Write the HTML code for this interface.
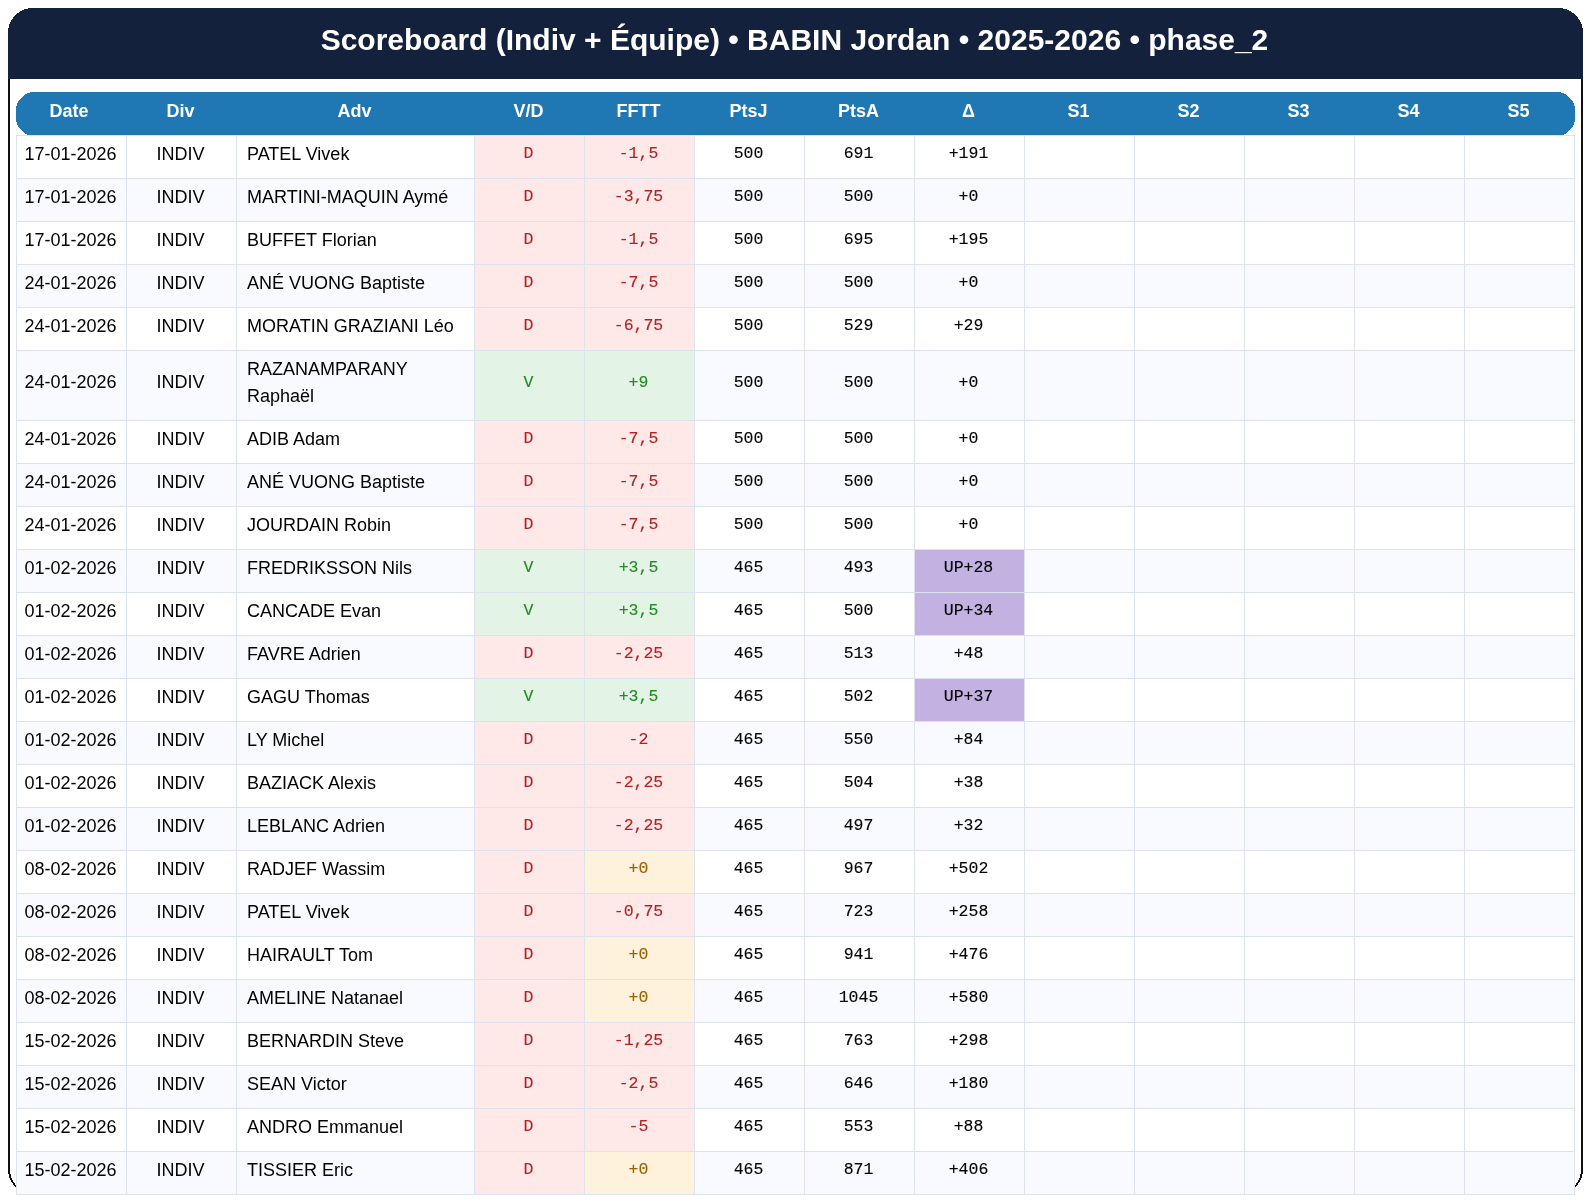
<!DOCTYPE html>
<html lang="fr"><head><meta charset="utf-8"><title>Scoreboard</title>
<style>
html,body{margin:0;padding:0;background:#fff;}
body{width:1590px;height:1201px;overflow:hidden;position:relative;font-family:"Liberation Sans",Arial,sans-serif;}
svg.bg{position:absolute;left:0;top:0;}
.hdr,table{will-change:transform;}
.hdr{position:absolute;left:8px;top:8px;width:1575px;height:71px;text-align:center;}
.hdr h1{margin:0;position:relative;left:-1px;padding-top:14px;color:#fff;font-size:30px;font-weight:bold;line-height:36px;}
table{position:absolute;left:16px;top:92px;border-collapse:collapse;table-layout:fixed;width:1559px;font-size:18px;line-height:27px;color:#000;}
col.w1{width:110px;} col.w2{width:238px;}
th,td{padding:5px 9px 10px 7px;border:1px solid #dde3ee;text-align:center;vertical-align:middle;}
th{color:#fff;font-weight:bold;border:none;padding:6px 9px 10px 7px;}
th:first-child{padding-right:12px;}
td{white-space:nowrap;}
td.adv{text-align:left;white-space:normal;padding-left:10px;padding-right:10px;}
tr td{background:#fff;}
tr.alt td{background:#f8faff;}
td.m{font-family:"Liberation Mono",monospace;font-size:16.5px;-webkit-text-stroke:0.12px currentColor;padding-top:4px;padding-bottom:11px;}
tr td.loss{background:#fee8e8;color:#b22222;}
tr td.win{background:#e3f4e6;color:#228b22;}
tr td.zero{background:#fff2dc;color:#9c6000;}
tr td.up{background:#c3b1e1;}
tr.two td:not(.m):not(.adv){padding-top:4px;padding-bottom:11px;}
</style></head><body>
<svg class="bg" width="1590" height="1201" viewBox="0 0 1590 1201" shape-rendering="crispEdges"><path fill="#111" d="M8 28 H10 V1174 H8 Z M1581 28 H1583 V1174 H1581 Z M28 1193 H30 V1194 H28 Z M1561 1193 H1563 V1194 H1561 Z M24 1192 H26 V1193 H24 Z M1565 1192 H1567 V1193 H1565 Z M22 1191 H24 V1192 H22 Z M1567 1191 H1569 V1192 H1567 Z M20 1190 H22 V1191 H20 Z M1569 1190 H1571 V1191 H1569 Z M19 1189 H21 V1190 H19 Z M1570 1189 H1572 V1190 H1570 Z M17 1188 H19 V1189 H17 Z M1572 1188 H1574 V1189 H1572 Z M16 1187 H18 V1188 H16 Z M1573 1187 H1575 V1188 H1573 Z M15 1186 H17 V1187 H15 Z M1574 1186 H1576 V1187 H1574 Z M14 1185 H16 V1186 H14 Z M1575 1185 H1577 V1186 H1575 Z M13 1184 H15 V1185 H13 Z M1576 1184 H1578 V1185 H1576 Z M13 1183 H15 V1184 H13 Z M1576 1183 H1578 V1184 H1576 Z M12 1182 H14 V1183 H12 Z M1577 1182 H1579 V1183 H1577 Z M11 1181 H13 V1182 H11 Z M1578 1181 H1580 V1182 H1578 Z M11 1180 H13 V1181 H11 Z M1578 1180 H1580 V1181 H1578 Z M10 1179 H12 V1180 H10 Z M1579 1179 H1581 V1180 H1579 Z M10 1178 H12 V1179 H10 Z M1579 1178 H1581 V1179 H1579 Z M9 1177 H11 V1178 H9 Z M1580 1177 H1582 V1178 H1580 Z M9 1176 H11 V1177 H9 Z M1580 1176 H1582 V1177 H1580 Z M9 1175 H11 V1176 H9 Z M1580 1175 H1582 V1176 H1580 Z M9 1174 H11 V1175 H9 Z M1580 1174 H1582 V1175 H1580 Z"/><path fill="#14213d" d="M28 8 L28 9 L24 9 L24 10 L22 10 L22 11 L20 11 L20 12 L19 12 L19 13 L17 13 L17 14 L16 14 L16 15 L15 15 L15 16 L14 16 L14 17 L13 17 L13 18 L13 19 L12 19 L12 20 L11 20 L11 21 L11 22 L10 22 L10 23 L10 24 L9 24 L9 25 L9 26 L9 27 L9 28 L8 28 L8 29 L8 30 L8 31 L8 32 L8 33 L8 34 L8 35 L8 36 L8 37 L8 38 L8 39 L8 40 L8 41 L8 42 L8 43 L8 44 L8 45 L8 46 L8 47 L8 48 L8 49 L8 50 L8 51 L8 52 L8 53 L8 54 L8 55 L8 56 L8 57 L8 58 L8 59 L8 60 L8 61 L8 62 L8 63 L8 64 L8 65 L8 66 L8 67 L8 68 L8 69 L8 70 L8 71 L8 72 L8 73 L8 74 L8 75 L8 76 L8 77 L8 78 L8 79 L1583 79 L1583 78 L1583 77 L1583 76 L1583 75 L1583 74 L1583 73 L1583 72 L1583 71 L1583 70 L1583 69 L1583 68 L1583 67 L1583 66 L1583 65 L1583 64 L1583 63 L1583 62 L1583 61 L1583 60 L1583 59 L1583 58 L1583 57 L1583 56 L1583 55 L1583 54 L1583 53 L1583 52 L1583 51 L1583 50 L1583 49 L1583 48 L1583 47 L1583 46 L1583 45 L1583 44 L1583 43 L1583 42 L1583 41 L1583 40 L1583 39 L1583 38 L1583 37 L1583 36 L1583 35 L1583 34 L1583 33 L1583 32 L1583 31 L1583 30 L1583 29 L1583 28 L1582 28 L1582 27 L1582 26 L1582 25 L1582 24 L1581 24 L1581 23 L1581 22 L1580 22 L1580 21 L1580 20 L1579 20 L1579 19 L1578 19 L1578 18 L1578 17 L1577 17 L1577 16 L1576 16 L1576 15 L1575 15 L1575 14 L1574 14 L1574 13 L1572 13 L1572 12 L1571 12 L1571 11 L1569 11 L1569 10 L1567 10 L1567 9 L1563 9 L1563 8 Z"/><path fill="#1f77b4" d="M30 92 L30 93 L27 93 L27 94 L25 94 L25 95 L24 95 L24 96 L23 96 L23 97 L22 97 L22 98 L21 98 L21 99 L20 99 L20 100 L19 100 L19 101 L18 101 L18 102 L18 103 L17 103 L17 104 L17 105 L17 106 L16 106 L16 107 L16 108 L16 109 L16 110 L16 111 L16 112 L16 113 L16 114 L16 115 L16 116 L16 117 L16 118 L16 119 L16 120 L16 121 L16 122 L17 122 L17 123 L17 124 L17 125 L18 125 L18 126 L18 127 L19 127 L19 128 L20 128 L20 129 L21 129 L21 130 L22 130 L22 131 L23 131 L23 132 L24 132 L24 133 L25 133 L25 134 L27 134 L27 135 L30 135 L30 136 L1561 136 L1561 135 L1564 135 L1564 134 L1566 134 L1566 133 L1567 133 L1567 132 L1568 132 L1568 131 L1569 131 L1569 130 L1570 130 L1570 129 L1571 129 L1571 128 L1572 128 L1572 127 L1573 127 L1573 126 L1573 125 L1574 125 L1574 124 L1574 123 L1574 122 L1575 122 L1575 121 L1575 120 L1575 119 L1575 118 L1575 117 L1575 116 L1575 115 L1575 114 L1575 113 L1575 112 L1575 111 L1575 110 L1575 109 L1575 108 L1575 107 L1575 106 L1574 106 L1574 105 L1574 104 L1574 103 L1573 103 L1573 102 L1573 101 L1572 101 L1572 100 L1571 100 L1571 99 L1570 99 L1570 98 L1569 98 L1569 97 L1568 97 L1568 96 L1567 96 L1567 95 L1566 95 L1566 94 L1564 94 L1564 93 L1561 93 L1561 92 Z"/></svg>
<div class="hdr"><h1>Scoreboard (Indiv + Équipe) • BABIN Jordan • 2025-2026 • phase_2</h1></div>
<table>
<colgroup><col class="w1"><col class="w1"><col class="w2"><col class="w1"><col class="w1"><col class="w1"><col class="w1"><col class="w1"><col class="w1"><col class="w1"><col class="w1"><col class="w1"><col class="w1"></colgroup>
<thead><tr><th>Date</th><th>Div</th><th>Adv</th><th>V/D</th><th>FFTT</th><th>PtsJ</th><th>PtsA</th><th>Δ</th><th>S1</th><th>S2</th><th>S3</th><th>S4</th><th>S5</th></tr></thead>
<tbody>
<tr><td>17-01-2026</td><td>INDIV</td><td class="adv">PATEL Vivek</td><td class="m loss">D</td><td class="m loss">-1,5</td><td class="m">500</td><td class="m">691</td><td class="m">+191</td><td></td><td></td><td></td><td></td><td></td></tr>
<tr class="alt"><td>17-01-2026</td><td>INDIV</td><td class="adv">MARTINI-MAQUIN Aymé</td><td class="m loss">D</td><td class="m loss">-3,75</td><td class="m">500</td><td class="m">500</td><td class="m">+0</td><td></td><td></td><td></td><td></td><td></td></tr>
<tr><td>17-01-2026</td><td>INDIV</td><td class="adv">BUFFET Florian</td><td class="m loss">D</td><td class="m loss">-1,5</td><td class="m">500</td><td class="m">695</td><td class="m">+195</td><td></td><td></td><td></td><td></td><td></td></tr>
<tr class="alt"><td>24-01-2026</td><td>INDIV</td><td class="adv">ANÉ VUONG Baptiste</td><td class="m loss">D</td><td class="m loss">-7,5</td><td class="m">500</td><td class="m">500</td><td class="m">+0</td><td></td><td></td><td></td><td></td><td></td></tr>
<tr><td>24-01-2026</td><td>INDIV</td><td class="adv">MORATIN GRAZIANI Léo</td><td class="m loss">D</td><td class="m loss">-6,75</td><td class="m">500</td><td class="m">529</td><td class="m">+29</td><td></td><td></td><td></td><td></td><td></td></tr>
<tr class="alt two"><td>24-01-2026</td><td>INDIV</td><td class="adv">RAZANAMPARANY Raphaël</td><td class="m win">V</td><td class="m win">+9</td><td class="m">500</td><td class="m">500</td><td class="m">+0</td><td></td><td></td><td></td><td></td><td></td></tr>
<tr><td>24-01-2026</td><td>INDIV</td><td class="adv">ADIB Adam</td><td class="m loss">D</td><td class="m loss">-7,5</td><td class="m">500</td><td class="m">500</td><td class="m">+0</td><td></td><td></td><td></td><td></td><td></td></tr>
<tr class="alt"><td>24-01-2026</td><td>INDIV</td><td class="adv">ANÉ VUONG Baptiste</td><td class="m loss">D</td><td class="m loss">-7,5</td><td class="m">500</td><td class="m">500</td><td class="m">+0</td><td></td><td></td><td></td><td></td><td></td></tr>
<tr><td>24-01-2026</td><td>INDIV</td><td class="adv">JOURDAIN Robin</td><td class="m loss">D</td><td class="m loss">-7,5</td><td class="m">500</td><td class="m">500</td><td class="m">+0</td><td></td><td></td><td></td><td></td><td></td></tr>
<tr class="alt"><td>01-02-2026</td><td>INDIV</td><td class="adv">FREDRIKSSON Nils</td><td class="m win">V</td><td class="m win">+3,5</td><td class="m">465</td><td class="m">493</td><td class="m up">UP+28</td><td></td><td></td><td></td><td></td><td></td></tr>
<tr><td>01-02-2026</td><td>INDIV</td><td class="adv">CANCADE Evan</td><td class="m win">V</td><td class="m win">+3,5</td><td class="m">465</td><td class="m">500</td><td class="m up">UP+34</td><td></td><td></td><td></td><td></td><td></td></tr>
<tr class="alt"><td>01-02-2026</td><td>INDIV</td><td class="adv">FAVRE Adrien</td><td class="m loss">D</td><td class="m loss">-2,25</td><td class="m">465</td><td class="m">513</td><td class="m">+48</td><td></td><td></td><td></td><td></td><td></td></tr>
<tr><td>01-02-2026</td><td>INDIV</td><td class="adv">GAGU Thomas</td><td class="m win">V</td><td class="m win">+3,5</td><td class="m">465</td><td class="m">502</td><td class="m up">UP+37</td><td></td><td></td><td></td><td></td><td></td></tr>
<tr class="alt"><td>01-02-2026</td><td>INDIV</td><td class="adv">LY Michel</td><td class="m loss">D</td><td class="m loss">-2</td><td class="m">465</td><td class="m">550</td><td class="m">+84</td><td></td><td></td><td></td><td></td><td></td></tr>
<tr><td>01-02-2026</td><td>INDIV</td><td class="adv">BAZIACK Alexis</td><td class="m loss">D</td><td class="m loss">-2,25</td><td class="m">465</td><td class="m">504</td><td class="m">+38</td><td></td><td></td><td></td><td></td><td></td></tr>
<tr class="alt"><td>01-02-2026</td><td>INDIV</td><td class="adv">LEBLANC Adrien</td><td class="m loss">D</td><td class="m loss">-2,25</td><td class="m">465</td><td class="m">497</td><td class="m">+32</td><td></td><td></td><td></td><td></td><td></td></tr>
<tr><td>08-02-2026</td><td>INDIV</td><td class="adv">RADJEF Wassim</td><td class="m loss">D</td><td class="m zero">+0</td><td class="m">465</td><td class="m">967</td><td class="m">+502</td><td></td><td></td><td></td><td></td><td></td></tr>
<tr class="alt"><td>08-02-2026</td><td>INDIV</td><td class="adv">PATEL Vivek</td><td class="m loss">D</td><td class="m loss">-0,75</td><td class="m">465</td><td class="m">723</td><td class="m">+258</td><td></td><td></td><td></td><td></td><td></td></tr>
<tr><td>08-02-2026</td><td>INDIV</td><td class="adv">HAIRAULT Tom</td><td class="m loss">D</td><td class="m zero">+0</td><td class="m">465</td><td class="m">941</td><td class="m">+476</td><td></td><td></td><td></td><td></td><td></td></tr>
<tr class="alt"><td>08-02-2026</td><td>INDIV</td><td class="adv">AMELINE Natanael</td><td class="m loss">D</td><td class="m zero">+0</td><td class="m">465</td><td class="m">1045</td><td class="m">+580</td><td></td><td></td><td></td><td></td><td></td></tr>
<tr><td>15-02-2026</td><td>INDIV</td><td class="adv">BERNARDIN Steve</td><td class="m loss">D</td><td class="m loss">-1,25</td><td class="m">465</td><td class="m">763</td><td class="m">+298</td><td></td><td></td><td></td><td></td><td></td></tr>
<tr class="alt"><td>15-02-2026</td><td>INDIV</td><td class="adv">SEAN Victor</td><td class="m loss">D</td><td class="m loss">-2,5</td><td class="m">465</td><td class="m">646</td><td class="m">+180</td><td></td><td></td><td></td><td></td><td></td></tr>
<tr><td>15-02-2026</td><td>INDIV</td><td class="adv">ANDRO Emmanuel</td><td class="m loss">D</td><td class="m loss">-5</td><td class="m">465</td><td class="m">553</td><td class="m">+88</td><td></td><td></td><td></td><td></td><td></td></tr>
<tr class="alt"><td>15-02-2026</td><td>INDIV</td><td class="adv">TISSIER Eric</td><td class="m loss">D</td><td class="m zero">+0</td><td class="m">465</td><td class="m">871</td><td class="m">+406</td><td></td><td></td><td></td><td></td><td></td></tr>
</tbody></table>
</body></html>
